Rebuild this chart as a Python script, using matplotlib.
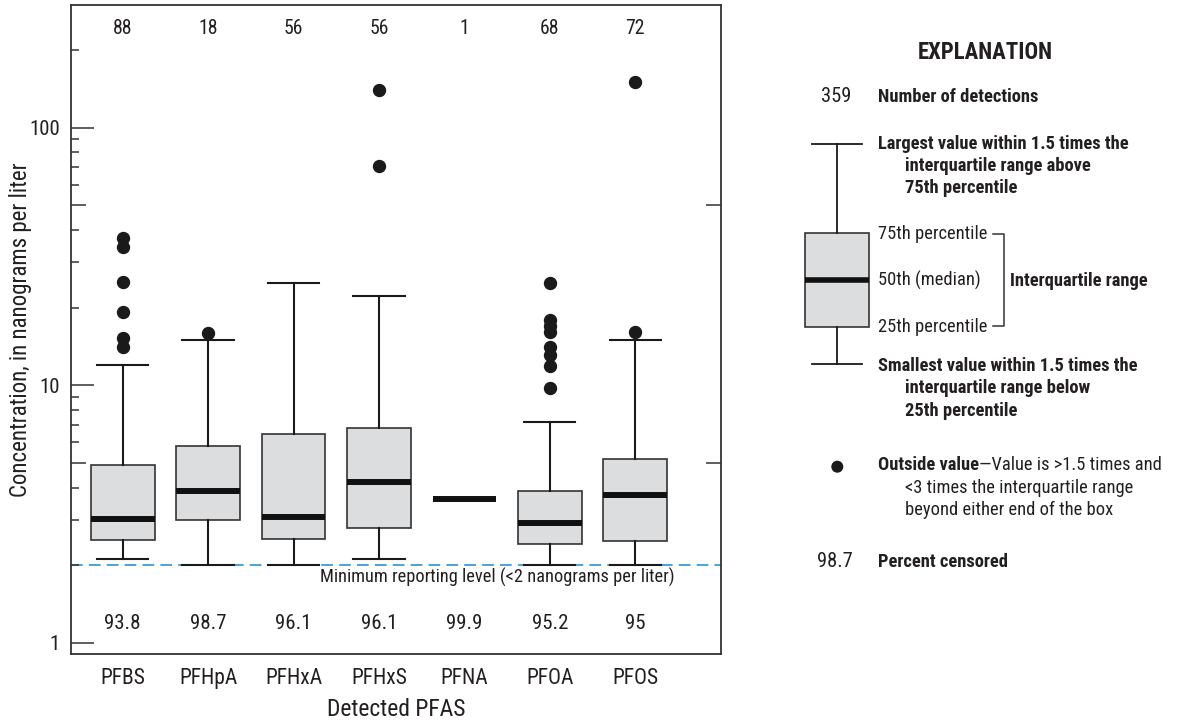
import matplotlib
matplotlib.use("Agg")
import matplotlib.pyplot as plt
from matplotlib import font_manager
from matplotlib.lines import Line2D
from matplotlib.patches import Rectangle, Ellipse

# ---------------- data ----------------
categories = ['PFBS', 'PFHpA', 'PFHxA', 'PFHxS', 'PFNA', 'PFOA', 'PFOS']
detections = [88, 18, 56, 56, 1, 68, 72]
pct_censored = [93.8, 98.7, 96.1, 96.1, 99.9, 95.2, 95]
q1 = [2.50, 3.00, 2.53, 2.78, 3.60, 2.41, 2.48]
med = [3.01, 3.88, 3.08, 4.20, 3.60, 2.91, 3.75]
q3 = [4.90, 5.80, 6.46, 6.84, 3.60, 3.89, 5.18]
whislo = [2.11, 2.00, 2.00, 2.11, 3.60, 2.00, 2.00]
whishi = [12.0, 15.0, 25.0, 22.1, 3.60, 7.22, 15.0]
outliers = [
    [37.3, 34.3, 25.1, 19.2, 15.3, 14.05],
    [16.0],
    [],
    [140.0, 70.8],
    [],
    [25.0, 17.9, 17.0, 16.05, 14.0, 13.1, 11.9, 9.72],
    [150.0, 16.1],
]
reporting_level = 2.0
yticks_major = [1, 10, 100]
yticks_mid = [5, 50]
yticks_minor = [2, 3, 4, 6, 7, 8, 9, 20, 30, 40, 60, 70, 80, 90, 200]

# ---------------- fonts ----------------
ttf = font_manager.fontManager.ttflist
names = {f.name for f in ttf}
STRETCH = 'normal'
chosen = None
for cand in ['Liberation Sans Narrow', 'Roboto Condensed', 'Open Sans Condensed',
             'Noto Sans Condensed', 'DejaVu Sans Condensed', 'Arial Narrow']:
    if cand in names:
        chosen = cand
        break
if chosen is None:
    cond_dv = [f for f in ttf if f.name == 'DejaVu Sans' and 'Condensed' in f.fname]
    if cond_dv:
        chosen = 'DejaVu Sans'
        STRETCH = 'condensed'
if chosen is None:
    chosen = 'Liberation Sans'
    WF = 0.86   # shrink factor to mimic condensed widths
else:
    WF = 1.0
plt.rcParams['font.family'] = [chosen, 'DejaVu Sans']
plt.rcParams['font.stretch'] = STRETCH

TXT = '#231f20'
EDGE = '#333333'
FILL = '#dcdddf'
BLUE = '#3d9bd6'

W, H = 1179, 727
fig = plt.figure(figsize=(W / 100, H / 100), dpi=100)
L, R, T, B = 71, 720.7, 5, 654
ax = fig.add_axes([L / W, 1 - B / H, (R - L) / W, (B - T) / H])
ax.set_yscale('log')

stats = []
for i, c in enumerate(categories):
    stats.append(dict(label=c, q1=q1[i], med=med[i], q3=q3[i],
                      whislo=whislo[i], whishi=whishi[i], fliers=outliers[i]))
positions = list(range(1, len(categories) + 1))
ax.bxp(stats, positions=positions, widths=0.745, capwidths=0.6,
       patch_artist=True, showfliers=True,
       boxprops=dict(facecolor=FILL, edgecolor=EDGE, linewidth=1.2),
       medianprops=dict(color='#111111', linewidth=4.3, solid_capstyle='butt'),
       whiskerprops=dict(color='#1a1a1a', linewidth=1.5),
       capprops=dict(color='#1a1a1a', linewidth=1.5),
       flierprops=dict(marker='o', markerfacecolor='#1a1a1a',
                       markeredgecolor='#1a1a1a', markersize=8.6, linestyle='none'))

ax.set_xlim(0.395, 8.0)
ax.set_ylim(0.904, 299)

ax.axhline(reporting_level, color=BLUE, lw=1.3, dashes=(6.5, 3.4), zorder=1.5)
ax.text(7.465, 1.71, 'Minimum reporting level (<2 nanograms per liter)',
        ha='right', va='baseline', fontsize=13.2 * WF, color=TXT)

for i, p in enumerate(positions):
    ax.text(p, 0.9553, str(detections[i]), transform=ax.get_xaxis_transform(),
            ha='center', va='baseline', fontsize=14.2, color=TXT)
    ax.text(p, 0.038, '{:g}'.format(pct_censored[i]), transform=ax.get_xaxis_transform(),
            ha='center', va='baseline', fontsize=15, color=TXT)

# axes styling
for s in ax.spines.values():
    s.set_color(EDGE)
    s.set_linewidth(1.3)
ax.set_xticks(positions)
ax.set_xticklabels(categories, fontsize=15.5 * (0.95 if WF < 1 else 1), color=TXT)
ax.tick_params(axis='x', length=0, pad=10)
ax.set_yticks(yticks_major)
ax.set_yticklabels([str(v) for v in yticks_major], fontsize=15, color=TXT)
ax.set_yticks(yticks_minor, minor=True)
ax.yaxis.set_minor_formatter(plt.NullFormatter())
ax.tick_params(axis='y', which='major', direction='in', length=16.5, width=1.1,
               color=EDGE, left=True, right=True, pad=8)
ax.tick_params(axis='y', which='minor', direction='in', length=5.8, width=1.1,
               color=EDGE, left=True, right=True)

ax2 = ax.twinx()
ax2.set_yscale('log')
ax2.set_ylim(ax.get_ylim())
ax2.set_yticks(yticks_mid)
ax2.set_yticks([], minor=True)
ax2.tick_params(axis='y', which='major', direction='in', length=10.8, width=1.1,
                color=EDGE, left=True, right=True, labelleft=False, labelright=False)
for s in ax2.spines.values():
    s.set_visible(False)

ax.set_xlabel('Detected PFAS', fontsize=17, color=TXT, va='center')
ax.xaxis.set_label_coords(0.5, -0.086)
ax.set_ylabel('Concentration, in nanograms per liter', fontsize=16.5 * (0.93 if WF < 1 else 1),
              color=TXT, va='center')
ax.yaxis.set_label_coords(-0.078, 0.5)

# ---------------- explanation (pixel overlay) ----------------
ov = fig.add_axes([0, 0, 1, 1], zorder=5)
ov.set_xlim(0, W)
ov.set_ylim(H, 0)
ov.axis('off')
ov.patch.set_alpha(0)

BS = 13.3 * WF
ov.text(985, 59.3, 'EXPLANATION', ha='center', va='baseline', fontsize=16.4 * WF,
        fontweight='bold', color=TXT)
ov.text(851, 102, '359', ha='right', va='baseline', fontsize=14.8, color=TXT)
ov.text(877.7, 102, 'Number of detections', ha='left', va='baseline', fontsize=BS,
        fontweight='bold', color=TXT)

# legend box
cx = 837.3
ov.add_line(Line2D([cx, cx], [144, 232.7], color='#1a1a1a', lw=1.3))
ov.add_line(Line2D([cx, cx], [326.7, 364.3], color='#1a1a1a', lw=1.3))
ov.add_line(Line2D([811.7, 862.3], [144, 144], color='#1a1a1a', lw=1.3))
ov.add_line(Line2D([811.7, 862.3], [364.3, 364.3], color='#1a1a1a', lw=1.3))
ov.add_patch(Rectangle((805, 232.7), 64.3, 94, facecolor=FILL, edgecolor=EDGE, lw=1.2))
ov.add_line(Line2D([805, 869.3], [280, 280], color='#111111', lw=4.0, solid_capstyle='butt'))

ov.text(877.7, 149.3, 'Largest value within 1.5 times the', fontsize=BS, fontweight='bold',
        va='baseline', color=TXT)
ov.text(905, 171, 'interquartile range above', fontsize=BS, fontweight='bold',
        va='baseline', color=TXT)
ov.text(905, 193.3, '75th percentile', fontsize=BS, fontweight='bold',
        va='baseline', color=TXT)

ov.text(877.7, 239, '75th percentile', fontsize=BS, va='baseline', color=TXT)
ov.text(877.7, 285.7, '50th (median)', fontsize=BS, va='baseline', color=TXT)
ov.text(877.7, 332.3, '25th percentile', fontsize=BS, va='baseline', color=TXT)
ov.add_line(Line2D([993.3, 1004.3, 1004.3, 993.3], [233.5, 233.5, 326, 326],
                   color=EDGE, lw=1.1))
ov.text(1010, 285.7, 'Interquartile range', fontsize=BS, fontweight='bold',
        va='baseline', color=TXT)

ov.text(877.7, 370.7, 'Smallest value within 1.5 times the', fontsize=BS, fontweight='bold',
        va='baseline', color=TXT)
ov.text(905, 393.3, 'interquartile range below', fontsize=BS, fontweight='bold',
        va='baseline', color=TXT)
ov.text(905, 416, '25th percentile', fontsize=BS, fontweight='bold',
        va='baseline', color=TXT)

ov.add_patch(Ellipse((837.3, 466.7), 12, 12, facecolor='#1a1a1a', edgecolor='none'))
t_out = ov.text(877.7, 470, 'Outside value', fontsize=BS, fontweight='bold',
                va='baseline', color=TXT)
ov.annotate('\u2014Value is >1.5 times and', xy=(1, 0), xycoords=t_out,
            xytext=(0, 0), textcoords='offset points',
            fontsize=BS, va='bottom', ha='left', color=TXT)
ov.text(905, 492.7, '<3 times the interquartile range', fontsize=BS, va='baseline', color=TXT)
ov.text(905, 515, 'beyond either end of the box', fontsize=BS, va='baseline', color=TXT)

ov.text(852.7, 566.7, '98.7', ha='right', va='baseline', fontsize=14.8, color=TXT)
ov.text(877.7, 566.7, 'Percent censored', fontsize=BS, fontweight='bold',
        va='baseline', color=TXT)

fig.savefig('out.png', dpi=100)
